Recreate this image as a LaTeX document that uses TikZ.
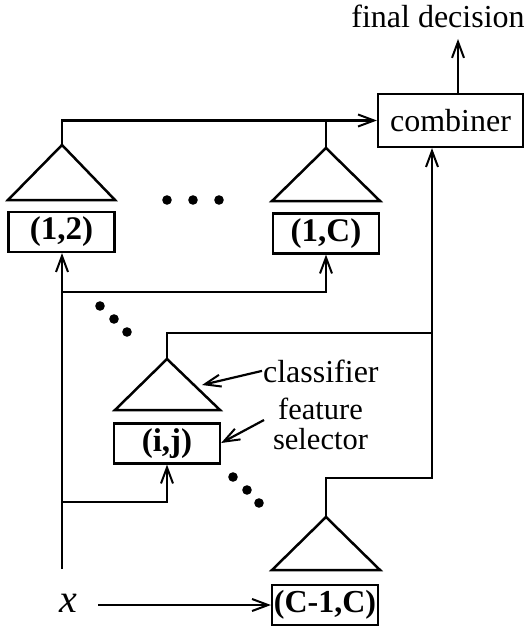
\documentclass[tikz,border=0pt]{standalone}
\usepackage{fontspec}
\setmainfont{Liberation Serif}
\usetikzlibrary{arrows.meta}
\begin{document}
\begin{tikzpicture}[x=1pt,y=-1pt,line width=2.2pt,
  arr/.style={-{Straight Barb[length=16pt,width=12pt,line width=2pt]}},
  lbl/.style={font=\fontsize{32}{36}\selectfont,inner sep=0pt},
  pbox/.style={draw,font=\fontsize{33}{36}\selectfont\bfseries,inner sep=0pt,minimum width=106pt,minimum height=40pt},
  tri/.style={line width=2.5pt,line join=miter},
  dotc/.style={fill=black,draw=none}]
\useasboundingbox (0,0) rectangle (524,631);
% texts and boxes
\node[lbl,anchor=base] (fd) at (438,28) {final decision};
\node[draw,lbl,minimum width=145pt,minimum height=53pt] (comb) at (450.5,120.5) {combiner};
\node[pbox] (b12) at (61.5,232) {(1,2)};
\node[pbox] (b1C) at (326,233.5) {(1,C)};
\node[pbox] (bij) at (167,443.5) {(i,j)};
\node[pbox,font=\fontsize{32}{36}\selectfont\bfseries] (bC) at (325,605) {(C-1,C)};
\node[lbl,anchor=base west] (cl) at (262,382) {classifier};
\node[lbl,align=center,font=\fontsize{30.5}{30}\selectfont] (fs) at (320.5,424) {feature\\selector};
\node[inner sep=0pt,font=\fontsize{40}{40}\selectfont\itshape] (xn) at (68,603) {x};
% triangles
\coordinate (t1) at (62,145);
\coordinate (t2) at (326,148);
\coordinate (tij) at (167,359);
\coordinate (tC) at (326,517);
\draw[tri] (t1) -- (8,200) -- (115,200) -- cycle;
\draw[tri] (t2) -- (272,201) -- (380,201) -- cycle;
\draw[tri] (tij) -- (115,410) -- (220,410) -- cycle;
\draw[tri] (tC) -- (272,570) -- (380,570) -- cycle;
% dots
\foreach \p in {(167,200),(193,200),(219,200),(100,306),(114,319),(127,332),(233,477),(247,490),(259,503)}
  \fill[dotc] \p circle (4.8pt);
% connectors
\coordinate (fdtip) at (458,39);
\draw[arr] (comb.north -| fdtip) -- (fdtip);
\draw[arr] (t1) |- (comb.west);
\draw (t2) -- (t2 |- comb.west);
\coordinate (rtop) at (432,333);
\coordinate (rbot) at (432,478);
\draw[arr] (tij) |- (rbot |- rtop) -- (comb.south -| rbot);
\draw (tC) |- (rbot) -- (rtop);
\coordinate (inb) at (62,569);
\coordinate (in1) at (62,292);
\coordinate (in2) at (62,502);
\draw[arr] (inb) -- (b12.south -| inb);
\draw[arr] (in1) -| (b1C.south);
\draw[arr] (in2) -| (bij.south);
\coordinate (xs) at (98,605);
\draw[arr] (xs) -- (bC.west);
\coordinate (clt) at (202,385);
\draw[arr] (cl.west) -- (clt);
\coordinate (fes) at (264,420);
\draw[arr] (fes) -- (bij.east |- 0,443);
\end{tikzpicture}
\end{document}
